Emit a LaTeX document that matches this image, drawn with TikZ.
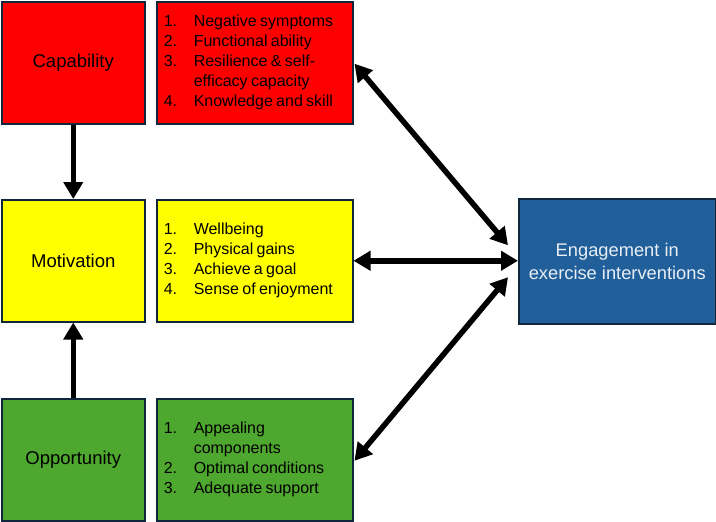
\documentclass[tikz,border=0pt]{standalone}
\usepackage{fontspec}
\setmainfont{Liberation Sans}
\usetikzlibrary{arrows.meta,calc}
\definecolor{cred}{HTML}{FF0000}
\definecolor{cyel}{HTML}{FFFF00}
\definecolor{cgrn}{HTML}{4EA72E}
\definecolor{cblu}{HTML}{215F9A}
\definecolor{cbrd}{HTML}{10263D}
\definecolor{ctxt}{HTML}{E8EEF4}
\newcommand{\listtab}[1]{\fontsize{16}{20}\selectfont\begin{tabular}{@{}p{30pt}@{}l@{}}#1\end{tabular}}
\tikzset{
  box/.style={draw=cbrd, line width=1.5pt, rectangle, inner sep=0pt, anchor=north west},
  labbox/.style={box, minimum width=143pt, minimum height=122pt, font=\fontsize{18.5}{22}\selectfont},
  listbox/.style={box, minimum width=196pt, minimum height=122pt, text width=182pt, inner xsep=7pt, align=left},
  arr/.style={line width=5.5pt, -{Triangle[length=17pt,width=19pt]}},
  darr/.style={line width=5.5pt, {Triangle[length=17pt,width=19pt]}-{Triangle[length=17pt,width=19pt]}}
}
\begin{document}
\begin{tikzpicture}[x=1pt,y=-1pt]
\useasboundingbox (0,0) rectangle (716,522);
% left column
\node[labbox, fill=cred] (cap) at (1,1) {Capability};
\node[labbox, fill=cyel] (mot) at (1,199) {Motivation};
\node[labbox, fill=cgrn] (opp) at (1,398) {Opportunity};
% lists
\node[listbox, fill=cred] (capl) at (156,1) {\listtab{1. & Negative symptoms\\ 2. & Functional ability\\ 3. & Resilience \& self-\\ & efficacy capacity\\ 4. & Knowledge and skill}};
\node[listbox, fill=cyel] (motl) at (156,199) {\listtab{1. & Wellbeing\\ 2. & Physical gains\\ 3. & Achieve a goal\\ 4. & Sense of enjoyment}};
\node[listbox, fill=cgrn] (oppl) at (156,398) {\listtab{1. & Appealing\\ & components\\ 2. & Optimal conditions\\ 3. & Adequate support}};
% engagement
\node[box, fill=cblu, minimum width=197pt, minimum height=125pt, text=ctxt, align=center, font=\fontsize{18.3}{23}\selectfont] (eng) at (518,198) {Engagement in\\exercise interventions};
% arrows
\draw[arr] (cap.south) -- (mot.north);
\draw[arr] (opp.north) -- (mot.south);
\draw[darr] (motl.east) -- (motl.east -| eng.west);
\coordinate (eu) at ($(eng.west)+(-10,-16)$);
\coordinate (el) at ($(eng.west)+(-10,16)$);
\draw[darr] ($(capl.east)+(1,1)$) -- (eu);
\draw[darr] ($(oppl.east)+(1,1)$) -- (el);
\end{tikzpicture}
\end{document}
